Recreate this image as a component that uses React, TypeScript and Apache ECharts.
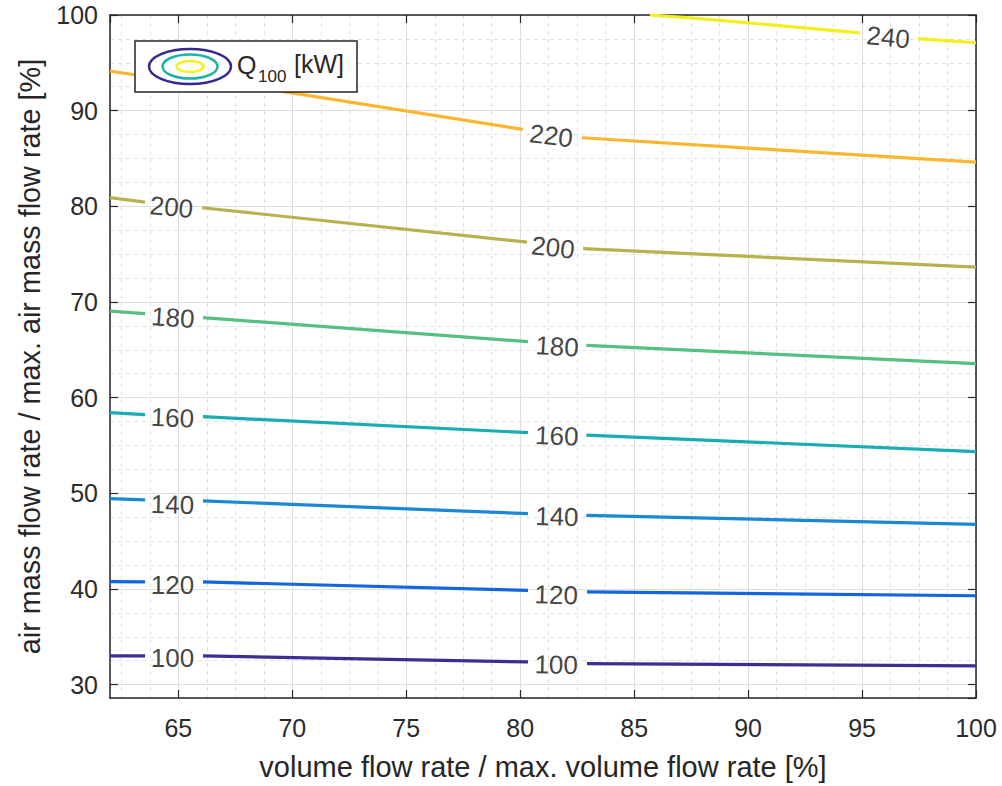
import React, { useEffect, useRef } from "react";
import * as echarts from "echarts";

// ---- data ----
const levels = [100, 120, 140, 160, 180, 200, 220, 240];
const levelColors = ["#3b2f92", "#1266df", "#1b88d6", "#17adb3", "#55c07f", "#b8b24e", "#fbb630", "#f2f01a"];

// Contour lines, split into segments where the inline labels sit
const contour100 = [[[62, 33.0], [63.54, 33.0]], [[66.08, 33.0], [80.34, 32.37]], [[82.93, 32.2], [100, 31.95]]];
const contour120 = [[[62, 40.77], [63.54, 40.75]], [[66.08, 40.73], [80.34, 39.86]], [[82.93, 39.7], [100, 39.29]]];
const contour140 = [[[62, 49.45], [63.54, 49.32]], [[66.08, 49.2], [80.34, 47.88]], [[82.9, 47.7], [100, 46.76]]];
const contour160 = [[[62, 58.43], [63.54, 58.22]], [[66.08, 58.01], [80.34, 56.34]], [[82.9, 56.09], [100, 54.36]]];
const contour180 = [[[62, 69.05], [63.54, 68.78]], [[66.08, 68.36], [80.34, 65.85]], [[82.9, 65.47], [100, 63.55]]];
const contour200 = [[[62, 80.9], [63.54, 80.44]], [[66.04, 79.85], [80.3, 76.26]], [[82.76, 75.57], [100, 73.65]]];
const contour220 = [[[62, 94.13], [63.01, 93.78], [68.58, 92.39], [80.12, 88.04]], [[82.7, 87.17], [94.98, 85.35], [100, 84.62]]];
const contour240 = [[[85.69, 100], [87.89, 99.63], [94.91, 98.14]], [[97.45, 97.54], [100, 97.1]]];
const contours = [contour100, contour120, contour140, contour160, contour180, contour200, contour220, contour240];

// inline contour labels: level, x, y
const labelLevels = [100, 100, 120, 120, 140, 140, 160, 160, 180, 180, 200, 200, 220, 240];
const labelX = [64.74, 81.58, 64.74, 81.58, 64.74, 81.61, 64.74, 81.61, 64.76, 81.62, 64.7, 81.44, 81.36, 96.15];
const labelY = [32.74, 32.1, 40.46, 39.38, 48.83, 47.57, 57.9, 56.01, 68.38, 65.36, 79.92, 75.7, 87.37, 97.67];
const labelAngle = [0, -1, 0, -1.5, -1.5, -1.7, -2.5, -2.4, -4, -3.6, -5.6, -6.5, -7, -5.6];

const xMin = 62;
const xMax = 100;
const yMin = 28.6;
const yMax = 100;

const FONT = "'Liberation Sans', Arial, Helvetica, sans-serif";
const AXIS_COLOR = "#262626";

export default function App() {
  const ref = useRef<HTMLDivElement>(null);

  useEffect(() => {
    if (!ref.current) return;
    document.body.style.margin = "0";
    document.body.style.overflow = "hidden";
    const chart = echarts.init(ref.current, undefined, { renderer: "svg" });

    const lineSeries = levels.map((lv, i) => {
      const data: any[] = [];
      contours[i].forEach((seg, j) => {
        if (j > 0) data.push([null, null]);
        seg.forEach((p) => data.push(p));
      });
      return {
        type: "line",
        name: String(lv),
        data,
        xAxisIndex: 0,
        yAxisIndex: 0,
        symbol: "none",
        showSymbol: false,
        connectNulls: false,
        silent: true,
        lineStyle: { color: levelColors[i], width: 3.2 },
        itemStyle: { color: levelColors[i] },
        z: 3,
      };
    });

    const labelSeries = {
      type: "scatter",
      xAxisIndex: 0,
      yAxisIndex: 0,
      symbolSize: 0,
      silent: true,
      z: 5,
      data: labelLevels.map((lv, i) => ({
        name: String(lv),
        value: [labelX[i], labelY[i]],
        label: { rotate: labelAngle[i] },
      })),
      label: {
        show: true,
        position: "inside",
        formatter: "{b}",
        fontSize: 26,
        color: "#111111",
        fontFamily: FONT,
      },
    };

    const numFmt = (v: number) => (Math.abs(v - Math.round(v)) < 1e-6 ? String(Math.round(v)) : "");

    const baseAxisLine = { show: true, lineStyle: { color: AXIS_COLOR, width: 1.5 } };
    const baseTick = { show: true, inside: true, length: 8, lineStyle: { color: AXIS_COLOR, width: 1.2 } };

    chart.setOption({
      animation: false,
      backgroundColor: "#ffffff",
      grid: { left: 110, right: 26, top: 15, bottom: 87, containLabel: false },
      xAxis: [
        {
          type: "value",
          min: xMin,
          max: xMax,
          splitNumber: 7,
          minInterval: 5,
          maxInterval: 5,
          position: "bottom",
          name: "volume flow rate / max. volume flow rate [%]",
          nameLocation: "middle",
          nameGap: 54,
          nameTextStyle: { fontSize: 29, color: AXIS_COLOR, fontFamily: FONT },
          axisLine: baseAxisLine,
          axisTick: baseTick,
          axisLabel: {
            show: true,
            margin: 17,
            fontSize: 25,
            color: "#2b2b2b",
            fontFamily: FONT,
            showMinLabel: false,
            formatter: numFmt,
          },
          splitLine: { show: true, lineStyle: { color: "#dedede", width: 1 } },
          minorTick: { show: false, splitNumber: 4 },
          minorSplitLine: { show: true, lineStyle: { color: "#e0e0e0", width: 1, type: [4, 4] } },
        },
        {
          type: "value",
          min: xMin,
          max: xMax,
          splitNumber: 7,
          minInterval: 5,
          maxInterval: 5,
          position: "top",
          axisLine: baseAxisLine,
          axisTick: baseTick,
          axisLabel: { show: false },
          splitLine: { show: false },
        },
      ],
      yAxis: [
        {
          type: "value",
          min: yMin,
          max: yMax,
          splitNumber: 7,
          minInterval: 10,
          maxInterval: 10,
          position: "left",
          name: "air mass flow rate / max. air mass flow rate [%]",
          nameLocation: "middle",
          nameGap: 66,
          nameTextStyle: { fontSize: 28.8, color: AXIS_COLOR, fontFamily: FONT },
          axisLine: baseAxisLine,
          axisTick: baseTick,
          axisLabel: {
            show: true,
            margin: 12,
            fontSize: 25,
            color: "#2b2b2b",
            fontFamily: FONT,
            showMinLabel: false,
            formatter: numFmt,
          },
          splitLine: { show: true, lineStyle: { color: "#dedede", width: 1 } },
          minorTick: { show: false, splitNumber: 4 },
          minorSplitLine: { show: true, lineStyle: { color: "#e0e0e0", width: 1, type: [4, 4] } },
        },
        {
          type: "value",
          min: yMin,
          max: yMax,
          splitNumber: 7,
          minInterval: 10,
          maxInterval: 10,
          position: "right",
          axisLine: baseAxisLine,
          axisTick: baseTick,
          axisLabel: { show: false },
          splitLine: { show: false },
        },
      ],
      series: [...lineSeries, labelSeries],
      graphic: [
        {
          type: "rect",
          z: 100,
          shape: { x: 135, y: 41, width: 222, height: 51 },
          style: { fill: "#ffffff", stroke: AXIS_COLOR, lineWidth: 1.5 },
        },
        {
          type: "ellipse",
          z: 101,
          shape: { cx: 190, cy: 66.5, rx: 41, ry: 17.5 },
          style: { fill: "none", stroke: "#35288f", lineWidth: 2.5 },
        },
        {
          type: "ellipse",
          z: 101,
          shape: { cx: 190, cy: 66.5, rx: 27.5, ry: 12 },
          style: { fill: "none", stroke: "#20b2a2", lineWidth: 2.5 },
        },
        {
          type: "ellipse",
          z: 101,
          shape: { cx: 190, cy: 66.5, rx: 13.5, ry: 5.5 },
          style: { fill: "none", stroke: "#f4f01c", lineWidth: 2.5 },
        },
        {
          type: "text",
          z: 101,
          x: 237,
          y: 65,
          style: { text: "Q", fontSize: 25, fontFamily: FONT, fill: AXIS_COLOR, verticalAlign: "middle", align: "left" },
        },
        {
          type: "text",
          z: 101,
          x: 258,
          y: 76,
          style: { text: "100", fontSize: 17, fontFamily: FONT, fill: AXIS_COLOR, verticalAlign: "middle", align: "left" },
        },
        {
          type: "text",
          z: 101,
          x: 294,
          y: 64,
          style: { text: "[kW]", fontSize: 25, fontFamily: FONT, fill: AXIS_COLOR, verticalAlign: "middle", align: "left" },
        },
      ],
    });

    return () => {
      chart.dispose();
    };
  }, []);

  return (
    <div
      ref={ref}
      style={{ position: "fixed", left: 0, top: 0, width: 1002, height: 786, overflow: "hidden", background: "#ffffff" }}
    />
  );
}
